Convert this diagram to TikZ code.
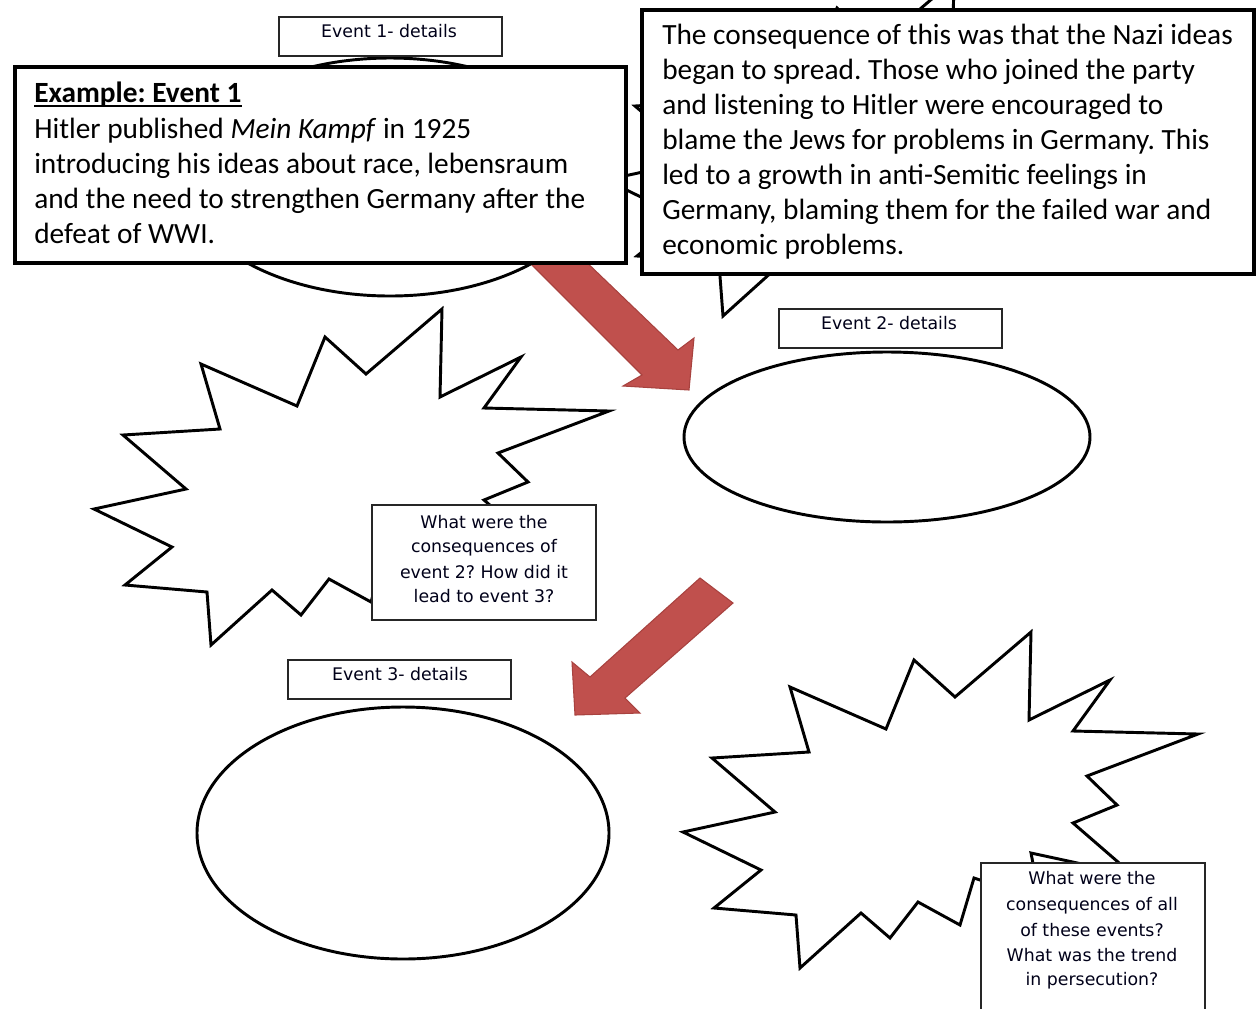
\documentclass[tikz,border=0pt]{standalone}
\usepackage{fontspec}
\setmainfont{Carlito}
\newfontfamily\lblfont{DejaVu Sans}
\definecolor{arrowred}{HTML}{C0504D}
\definecolor{arrowedge}{HTML}{A8423F}
\frenchspacing
\begin{document}
\begin{tikzpicture}[x=0.75pt,y=-0.75pt,
  burst/.style={draw=black, line width=2.2pt, fill=white, line join=miter},
  oval/.style={draw=black, line width=2.2pt, fill=white},
  lblbox/.style={draw=black!85, line width=1.1pt, fill=white},
  bigbox/.style={draw=black, line width=3.6pt, fill=white},
  blockarrow/.style={fill=arrowred, draw=arrowedge, line width=0.8pt, line join=miter},
  bigtxt/.style={anchor=base west, inner sep=0pt, font=\fontsize{22}{26}\selectfont},
  lbltxt/.style={anchor=base, inner sep=0pt, text=black!90!blue, font=\lblfont\fontsize{13}{16}\selectfont},
]
\useasboundingbox (0,0) rectangle (1260,1008);
\clip (0,0) rectangle (1260,1008);
\fill[white] (0,0) rectangle (1260,1008);

\def\burstpath{(683,832) -- (775,812) -- (712,758) -- (809,752) -- (790,687) -- (886,729) -- (914,660) -- (955,697) -- (1031,632) -- (1029,720) -- (1110,680) -- (1073,731) -- (1198,734) -- (1087,776) -- (1117,805) -- (1073,823) -- (1133,875) -- (1031,853) -- (1040,900) -- (974,878) -- (960,925) -- (918,902) -- (890,938) -- (861,913) -- (800,968) -- (796,915) -- (714,908) -- (761,870) -- cycle}
\def\burstpathtop{(683,832) -- (775,812) -- (712,758) -- (809,752) -- (790,687) -- (886,729) -- (914,660) -- (955,697) -- (1031,632) -- (1029,720) -- (1110,680) -- (1073,731) -- (1198,734) -- (1087,776) -- (1117,805) -- (1073,823) -- (1133,875) -- (1031,853) -- (1040,900) -- (974,878) -- (960,925) -- (918,902) -- (890,924) -- (861,913) -- (800,968) -- (796,915) -- (714,908) -- (761,870) -- cycle}

% starbursts
\path[burst, shift={(-77,-652)}] \burstpathtop;
\path[burst, shift={(-589,-323)}] \burstpath;
\path[burst] \burstpath;

% ellipses
\path[oval] (390,177) ellipse [x radius=206, y radius=119];
\path[oval] (887,437) ellipse [x radius=203, y radius=85];
\path[oval] (403,833) ellipse [x radius=206, y radius=126];

% block arrows
\path[blockarrow] (522,255) -- (642,375) -- (623,386) -- (689,390) -- (694,338) -- (678,350) -- (579,255) -- cycle;
\path[blockarrow] (700,578) -- (733,603) -- (625,698) -- (640,713) -- (575,715) -- (572,662) -- (590,677) -- cycle;

% event label boxes
\path[lblbox] (279,17) rectangle (502,56);
\node[lbltxt] (ev1) at (389,37) {Event 1- details};
\path[lblbox] (779,309) rectangle (1002,348);
\node[lbltxt] (ev2) at (889,329) {Event 2- details};
\path[lblbox] (288,660) rectangle (511,699);
\node[lbltxt] (ev3) at (400,680) {Event 3- details};

% question boxes
\path[lblbox] (372,505) rectangle (596,620);
\node[lbltxt] (q2a) at (484,528) {What were the};
\node[lbltxt] (q2b) at (484,552) {consequences of};
\node[lbltxt] (q2c) at (484,578) {event 2? How did it};
\node[lbltxt] (q2d) at (484,602) {lead to event 3?};

\path[lblbox] (981,863) rectangle (1205,1020);
\node[lbltxt] (q3a) at (1092,884) {What were the};
\node[lbltxt] (q3b) at (1092,910) {consequences of all};
\node[lbltxt] (q3c) at (1092,936) {of these events?};
\node[lbltxt] (q3d) at (1092,961) {What was the trend};
\node[lbltxt] (q3e) at (1092,985) {in persecution?};

% example box
\path[bigbox] (15,67) rectangle (626,263);
\node[bigtxt, font=\fontsize{22}{26}\selectfont\bfseries] (ex0) at (34,102) {Example: Event 1};
\draw[line width=1.5pt] ([yshift=-4*0.75pt]ex0.base west) -- ([yshift=-4*0.75pt]ex0.base east);
\node[bigtxt] (ex1) at (34,138) {Hitler published \textit{Mein Kampf} in 1925};
\node[bigtxt] (ex2) at (34,173) {introducing his ideas about race, lebensraum};
\node[bigtxt] (ex3) at (34,208) {and the need to strengthen Germany after the};
\node[bigtxt] (ex4) at (34,243) {defeat of WWI.};

% consequence box
\path[bigbox] (642,10) rectangle (1254,274);
\node[bigtxt] (cq0) at (662,44) {The consequence of this was that the Nazi ideas};
\node[bigtxt] (cq1) at (662,79) {began to spread. Those who joined the party};
\node[bigtxt] (cq2) at (662,114) {and listening to Hitler were encouraged to};
\node[bigtxt] (cq3) at (662,149) {blame the Jews for problems in Germany. This};
\node[bigtxt] (cq4) at (662,184) {led to a growth in anti-Semitic feelings in};
\node[bigtxt] (cq5) at (662,219) {Germany, blaming them for the failed war and};
\node[bigtxt] (cq6) at (662,254) {economic problems.};
\end{tikzpicture}
\end{document}
